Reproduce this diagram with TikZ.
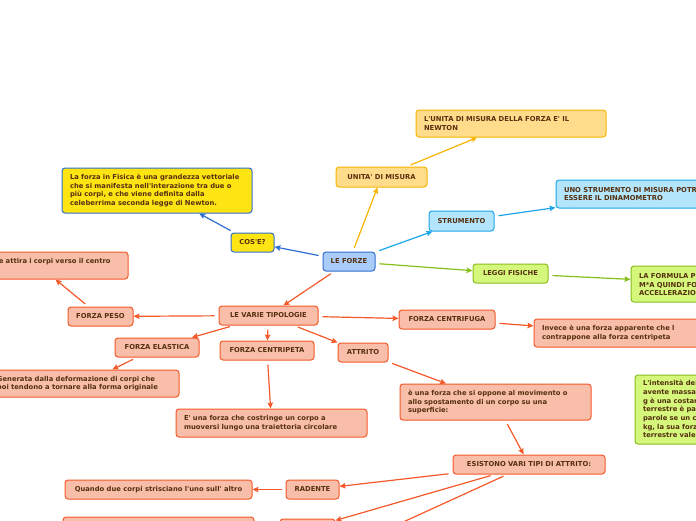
\documentclass[tikz,border=0pt]{standalone}
\usepackage{fontspec}
\setmainfont{DejaVu Sans}[Ligatures=TeXOff]
\usetikzlibrary{arrows.meta}
\definecolor{txt}{HTML}{55300F}
\definecolor{blueF}{HTML}{A9CDF8}\definecolor{blueD}{HTML}{2F6FCF}
\definecolor{yelF}{HTML}{FFE414}
\definecolor{goldF}{HTML}{FFDC8C}\definecolor{goldD}{HTML}{F7B500}
\definecolor{cyanF}{HTML}{B3E5FC}\definecolor{cyanD}{HTML}{1BA6EA}
\definecolor{grnF}{HTML}{D4F77C}\definecolor{grnD}{HTML}{86BF1C}
\definecolor{salF}{HTML}{F9BEA9}\definecolor{salD}{HTML}{F4592A}
\begin{document}
\begin{tikzpicture}[x=1pt,y=-1pt,
  box/.style={draw, rounded corners=3pt, line width=1pt, inner sep=0pt, align=center,
    text=txt, font=\fontsize{6.8}{8.7}\selectfont\bfseries},
  mbox/.style={box, align=left, inner xsep=8pt, text width=#1},
  cblue/.style={fill=blueF, draw=blueD},
  cyel/.style={fill=yelF, draw=blueD},
  cgold/.style={fill=goldF, draw=goldD},
  ccyan/.style={fill=cyanF, draw=cyanD},
  cgrn/.style={fill=grnF, draw=grnD},
  csal/.style={fill=salF, draw=salD},
  conn/.style={-{Stealth[length=6pt,width=5.5pt,inset=1pt]}, line width=1.2pt, shorten <=4pt},
]
\useasboundingbox (0,0) rectangle (696,520);
\clip (0,0) rectangle (696,520);
\fill[white] (0,0) rectangle (696,520);

% central
\node[box,cblue,minimum width=52pt,minimum height=19pt] (forze) at (349,261.5) {LE FORZE};
\node[box,cyel,minimum width=43pt,minimum height=19pt] (cose) at (252.5,242.5) {COS'E?};
\node[mbox=174pt,cyel,minimum height=45pt] (def) at (157,190.5)
  {La forza in Fisica è una grandezza vettoriale\\che si manifesta nell'interazione tra due o\\più corpi, e che viene definita dalla\\celeberrima seconda legge di Newton.};
\node[box,cgold,minimum width=91pt,minimum height=20pt] (unita) at (381.5,177) {UNITA' DI MISURA};
\node[mbox=174pt,cgold,minimum height=27pt] (newton) at (511,123.5) {L'UNITA DI MISURA DELLA FORZA E' IL\\NEWTON};
\node[box,ccyan,minimum width=65pt,minimum height=20pt] (strum) at (461.5,221) {STRUMENTO};
\node[mbox=175pt,ccyan,minimum height=28pt] (dinamo) at (651.5,194) {UNO STRUMENTO DI MISURA POTREBBE\\ESSERE IL DINAMOMETRO};
\node[box,cgrn,minimum width=75pt,minimum height=19pt] (leggi) at (510.5,273.5) {LEGGI FISICHE};
\node[mbox=175pt,cgrn,minimum height=36pt] (formula) at (726.5,284) {LA FORMULA PER LA FORZA È F=\\M*A QUINDI FORZA = MASSA PER\\ACCELLERAZIONE};
\node[mbox=175pt,cgrn,minimum height=69pt] (intens) at (730.5,409.5)
  {L'intensità della forza peso di un corpo\\avente massa m è P = m*g, dove\\g è una costante, che sulla superficie\\terrestre è pari a 9,8 N/kg. In altre\\parole se un corpo ha massa di 1\\kg, la sua forza peso sulla superficie\\terrestre vale 9,8 N.};

% tipologie
\node[box,csal,minimum width=99pt,minimum height=19pt] (tipol) at (268.5,315.5) {LE VARIE TIPOLOGIE};
\node[mbox=163pt,csal,minimum height=27pt] (gravbox) at (38.5,265.5) {La forza che attira i corpi verso il centro\\della terra};
\node[box,csal,minimum width=65pt,minimum height=19pt] (peso) at (100.5,316.5) {FORZA PESO};
\node[box,csal,minimum width=84pt,minimum height=19pt] (elast) at (157,347.5) {FORZA ELASTICA};
\node[mbox=174pt,csal,minimum height=27pt] (elastxt) at (84,383.5) {Generata dalla deformazione di corpi che\\poi tendono a tornare alla forma originale};
\node[box,csal,minimum width=94pt,minimum height=19pt] (centrip) at (267,350.5) {FORZA CENTRIPETA};
\node[mbox=175pt,csal,minimum height=28pt] (centriptxt) at (271.5,423) {E' una forza che costringe un corpo a\\muoversi lungo una traiettoria circolare};
\node[box,csal,minimum width=50pt,minimum height=19pt] (attrito) at (363,352.5) {ATTRITO};
\node[box,csal,minimum width=96pt,minimum height=19pt] (centrif) at (447,319.5) {FORZA CENTRIFUGA};
\node[mbox=175pt,csal,minimum height=28pt] (centriftxt) at (629.5,333) {Invece è una forza apparente che l\\contrappone alla forza centripeta};
\node[mbox=175pt,csal,minimum height=36pt] (attrtxt) at (495.5,402) {è una forza che si oppone al movimento o\\allo spostamento di un corpo su una\\superficie:};
\node[box,csal,minimum width=152pt,minimum height=19pt] (tipi) at (529,464.5) {ESISTONO VARI TIPI DI ATTRITO:};
\node[box,csal,minimum width=53pt,minimum height=19pt] (radente) at (312.5,489.5) {RADENTE};
\node[box,csal,minimum width=187pt,minimum height=19pt] (radtxt) at (158.5,489.5) {Quando due corpi strisciano l'uno sull' altro};
\node[box,csal,minimum width=191pt,minimum height=27pt] (boxA) at (158.5,530.5) {};
\node[box,csal,minimum width=55pt,minimum height=19pt] (boxB) at (307.5,528.5) {};
\node[box,csal,minimum width=60pt,minimum height=19pt] (boxC) at (320,560) {};

% connectors
\draw[conn,blueD] (forze) -- (cose);
\draw[conn,blueD] (cose) -- (def);
\draw[conn,goldD] (forze) -- (unita);
\draw[conn,goldD] (unita) -- (newton);
\draw[conn,cyanD] (forze) -- (strum);
\draw[conn,cyanD] (strum) -- (dinamo);
\draw[conn,grnD] (forze) -- (leggi);
\draw[conn,grnD] (leggi) -- (formula);
\draw[conn,salD] (forze) -- (tipol);
\draw[conn,salD] (tipol) -- (peso);
\draw[conn,salD] (peso) -- (gravbox);
\draw[conn,salD] (tipol) -- (elast);
\draw[conn,salD] (elast) -- (elastxt);
\draw[conn,salD] (tipol) -- (centrip);
\draw[conn,salD] (centrip) -- (centriptxt);
\draw[conn,salD] (tipol) -- (attrito);
\draw[conn,salD] (tipol) -- (centrif);
\draw[conn,salD] (centrif) -- (centriftxt);
\draw[conn,salD] (attrito) -- (attrtxt);
\draw[conn,salD] (attrtxt) -- (tipi);
\draw[conn,salD] (tipi) -- (radente);
\draw[conn,salD] (radente) -- (radtxt);
\draw[conn,salD] (tipi) -- (boxB);
\draw[conn,salD] (tipi) -- (boxC);
\draw[conn,salD] (boxB) -- (boxA);
\end{tikzpicture}
\end{document}
